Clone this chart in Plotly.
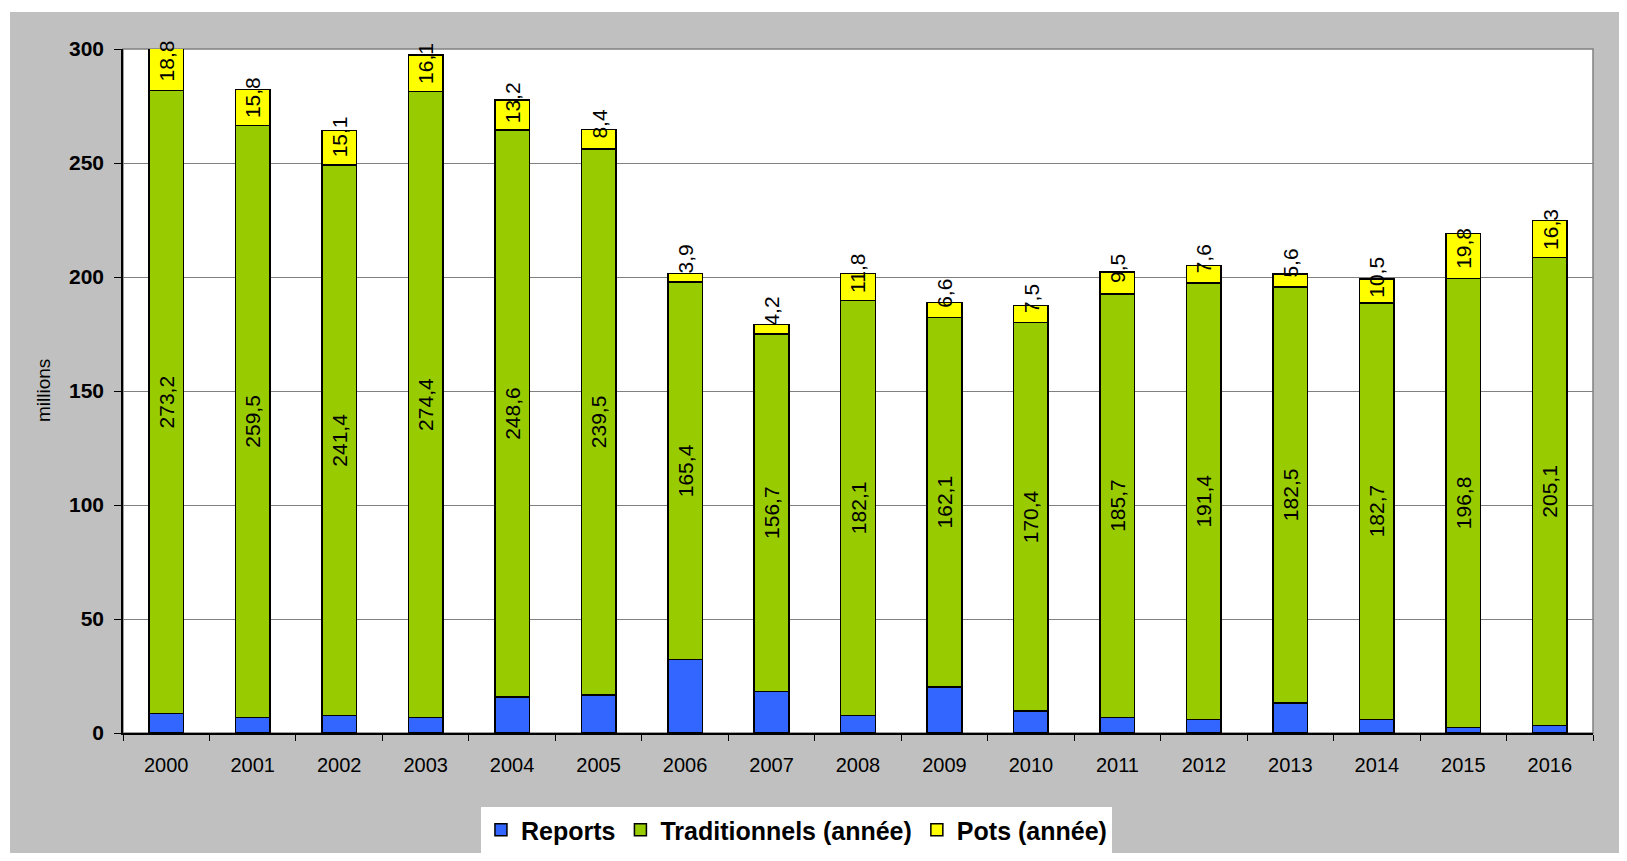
import plotly.graph_objects as go

years = ["2000", "2001", "2002", "2003", "2004", "2005", "2006", "2007", "2008",
         "2009", "2010", "2011", "2012", "2013", "2014", "2015", "2016"]
reports = [8.5, 6.9, 7.7, 6.9, 15.8, 16.7, 32.3, 18.3, 7.7, 20.2, 9.6, 6.9, 6.0, 13.2, 6.0, 2.5, 3.4]
traditionnels = [273.2, 259.5, 241.4, 274.4, 248.6, 239.5, 165.4, 156.7, 182.1, 162.1, 170.4,
                 185.7, 191.4, 182.5, 182.7, 196.8, 205.1]
pots = [18.8, 15.8, 15.1, 16.1, 13.2, 8.4, 3.9, 4.2, 11.8, 6.6, 7.5, 9.5, 7.6, 5.6, 10.5, 19.8, 16.3]

FONT = "Liberation Sans, Arial, sans-serif"
W, H = 1619, 845
ML, MR, MT, MB = 115, 34, 41, 120
PW, PH = W - ML - MR, H - MT - MB


def fr(v):
    return f"{v:.1f}".replace(".", ",")


fig = go.Figure()
line = dict(color="black", width=1.5)
fig.add_trace(go.Bar(x=years, y=reports, name="Reports",
                     marker=dict(color="#3366FF", line=line)))
fig.add_trace(go.Bar(x=years, y=traditionnels, name="Traditionnels (année)",
                     marker=dict(color="#99CC00", line=line),
                     text=[fr(v) for v in traditionnels], textposition="inside",
                     insidetextanchor="middle", textangle=-90,
                     textfont=dict(family=FONT, size=21, color="black"),
                     constraintext="none"))
fig.add_trace(go.Bar(x=years, y=pots, name="Pots (année)",
                     marker=dict(color="#FFFF00", line=line)))

annotations = []
for i, (r, t, p) in enumerate(zip(reports, traditionnels, pots)):
    annotations.append(dict(x=i, y=r + t + 0.2 * p, xref="x", yref="y",
                            text=fr(p), textangle=-90, showarrow=False,
                            yanchor="middle", xanchor="center", yshift=21,
                            font=dict(family=FONT, size=21, color="black")))

annotations.append(dict(x=0, y=0.5, xref="paper", yref="paper", text="millions",
                        textangle=-90, showarrow=False, xanchor="center", yanchor="middle",
                        xshift=35 - ML, font=dict(family=FONT, size=19, color="black")))

shapes = [
    # white outer strips (top / left) over gray paper
    dict(type="rect", xref="paper", yref="paper", x0=-1, x1=2,
         y0=(PH + MT - 4) / PH, y1=3, fillcolor="white", line_width=0, layer="below"),
    dict(type="rect", xref="paper", yref="paper", x0=-1, x1=(2 - ML) / PW,
         y0=-1, y1=3, fillcolor="white", line_width=0, layer="below"),
    # plot-area frame
    dict(type="rect", xref="paper", yref="paper", x0=0, x1=1, y0=0, y1=1,
         line=dict(color="#808080", width=1.5), fillcolor="rgba(0,0,0,0)", layer="below"),
]

fig.update_layout(
    width=W, height=H,
    barmode="stack", bargap=0.6,
    paper_bgcolor="#C0C0C0", plot_bgcolor="white",
    margin=dict(l=ML, r=MR, t=MT, b=MB, autoexpand=False),
    font=dict(family=FONT, color="black"),
    showlegend=True,
    legend=dict(orientation="h", xref="container", yref="container",
                x=0.487, xanchor="center", y=0, yanchor="bottom",
                bgcolor="white", borderwidth=0, traceorder="normal",
                font=dict(family=FONT, size=25, color="black", weight="bold")),
    annotations=annotations,
    shapes=shapes,
    hovermode=False,
)
fig.update_xaxes(type="category", range=[-0.5, len(years) - 0.5],
                 showline=True, linecolor="black", linewidth=1.5,
                 ticks="outside", tickson="boundaries", ticklen=6, tickcolor="black",
                 tickwidth=1, tickangle=0,
                 showgrid=False, automargin=False, ticklabelstandoff=13,
                 tickfont=dict(family=FONT, size=20, color="black"))
fig.update_yaxes(range=[0, 300], dtick=50, showline=True, linecolor="black", linewidth=1.5,
                 ticks="outside", ticklen=7, tickcolor="black", tickwidth=1,
                 showgrid=True, gridcolor="#808080", gridwidth=1, zeroline=False,
                 automargin=False, ticklabelstandoff=6,
                 tickfont=dict(family=FONT, size=21, color="black", weight="bold"))

fig.write_html("out.html")
